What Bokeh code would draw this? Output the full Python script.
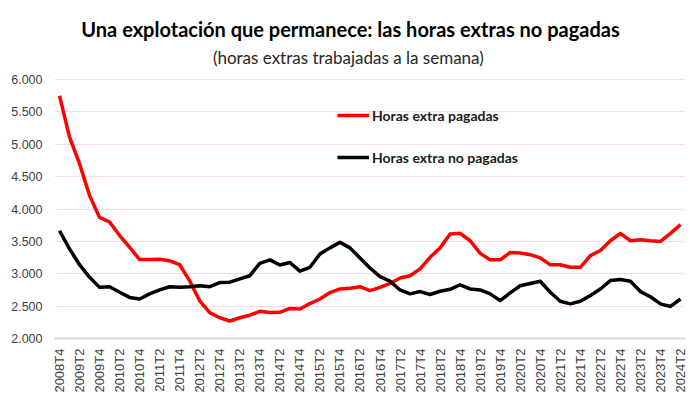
from bokeh.plotting import figure
from bokeh.models import Range1d, FixedTicker, Label, Legend, LegendItem
from bokeh.embed import file_html
from bokeh.resources import INLINE
import math

quarters = [
    "2008T4",
    "2009T1", "2009T2", "2009T3", "2009T4",
    "2010T1", "2010T2", "2010T3", "2010T4",
    "2011T1", "2011T2", "2011T3", "2011T4",
    "2012T1", "2012T2", "2012T3", "2012T4",
    "2013T1", "2013T2", "2013T3", "2013T4",
    "2014T1", "2014T2", "2014T3", "2014T4",
    "2015T1", "2015T2", "2015T3", "2015T4",
    "2016T1", "2016T2", "2016T3", "2016T4",
    "2017T1", "2017T2", "2017T3", "2017T4",
    "2018T1", "2018T2", "2018T3", "2018T4",
    "2019T1", "2019T2", "2019T3", "2019T4",
    "2020T1", "2020T2", "2020T3", "2020T4",
    "2021T1", "2021T2", "2021T3", "2021T4",
    "2022T1", "2022T2", "2022T3", "2022T4",
    "2023T1", "2023T2", "2023T3", "2023T4",
    "2024T1", "2024T2",
]

pagadas = [
    5750, 5110, 4700, 4210, 3870, 3800, 3590, 3410, 3220, 3220,
    3225, 3200, 3140, 2890, 2580, 2400, 2320, 2270, 2320, 2360,
    2420, 2400, 2405, 2465, 2455, 2540, 2610, 2710, 2765, 2775,
    2800, 2740, 2790, 2850, 2935, 2970, 3075, 3255, 3400, 3615,
    3625, 3510, 3315, 3215, 3215, 3330, 3320, 3295, 3245, 3140,
    3140, 3100, 3100, 3280, 3360, 3510, 3625, 3510, 3525, 3510,
    3500, 3625, 3760,
]

no_pagadas = [
    3665, 3385, 3140, 2945, 2790, 2800, 2715, 2635, 2610, 2690,
    2750, 2800, 2790, 2800, 2815, 2800, 2865, 2870, 2920, 2970,
    3160, 3215, 3135, 3175, 3040, 3100, 3305, 3400, 3485, 3400,
    3245, 3090, 2955, 2885, 2750, 2690, 2725, 2680, 2730, 2760,
    2830, 2765, 2750, 2690, 2585, 2705, 2815, 2850, 2885, 2715,
    2575, 2535, 2575, 2665, 2765, 2895, 2910, 2885, 2725, 2645,
    2535, 2495, 2610,
]

y_ticks = [2000, 2500, 3000, 3500, 4000, 4500, 5000, 5500, 6000]
y_tick_labels = ["2.000", "2.500", "3.000", "3.500", "4.000", "4.500", "5.000", "5.500", "6.000"]

title_text = "Una explotación que permanece: las horas extras no pagadas"
subtitle_text = "(horas extras trabajadas  a la semana)"
legend_labels = ["Horas extra pagadas", "Horas extra no pagadas"]

NARROW = "Lato"

x = list(range(len(quarters)))

# frame spans full height above the axis so that title texts sit inside it;
# the upper bound places the 6.000 gridline at the reference position
p = figure(width=700, height=414, output_backend="svg", toolbar_location=None,
           x_range=Range1d(-0.5, len(quarters) - 0.5),
           y_range=Range1d(y_ticks[0], 7222),
           min_border_left=54, min_border_right=15, min_border_top=0, min_border_bottom=76)
p.outline_line_color = None
p.background_fill_color = "white"
p.border_fill_color = "white"

r1 = p.line(x, pagadas, line_color="#ff0000", line_width=3.5, line_join="round")
r2 = p.line(x, no_pagadas, line_color="#000000", line_width=3.5, line_join="round")

# axes
p.xgrid.grid_line_color = None
p.ygrid.grid_line_color = "#fbdcd8"
p.ygrid.grid_line_width = 1
p.yaxis.ticker = FixedTicker(ticks=y_ticks)
p.yaxis.major_label_overrides = {t: l for t, l in zip(y_ticks, y_tick_labels)}
p.yaxis.axis_line_color = None
p.yaxis.major_tick_line_color = None
p.yaxis.minor_tick_line_color = None
p.yaxis.major_tick_out = 0
p.yaxis.major_tick_in = 0
p.yaxis.major_label_standoff = 12
p.yaxis.major_label_text_font = "Liberation Sans"
p.yaxis.major_label_text_font_size = "12.5px"
p.yaxis.major_label_text_color = "#404040"

even = x[::2]
p.xaxis.ticker = FixedTicker(ticks=even)
p.xaxis.major_label_overrides = {i: quarters[i] for i in even}
p.xaxis.major_label_orientation = math.pi / 2
p.xaxis.axis_line_color = "#d9d9d9"
p.xaxis.axis_line_width = 2
p.xaxis.major_tick_line_color = None
p.xaxis.minor_tick_line_color = None
p.xaxis.major_tick_out = 0
p.xaxis.major_tick_in = 0
p.xaxis.major_label_standoff = 10
p.xaxis.major_label_text_font = "Liberation Sans"
p.xaxis.major_label_text_font_size = "13px"
p.xaxis.major_label_text_color = "#404040"

# legend
legend = Legend(items=[LegendItem(label=legend_labels[0], renderers=[r1]),
                       LegendItem(label=legend_labels[1], renderers=[r2])],
                location=(283, 171), orientation="vertical",
                glyph_width=32, glyph_height=20, spacing=22, padding=0, margin=0,
                label_standoff=3, border_line_color=None, background_fill_alpha=0,
                label_text_font=NARROW, label_text_font_style="bold",
                label_text_font_size="14px", label_text_color="#1a1a1a")
p.add_layout(legend, "center")

# titles
p.add_layout(Label(x=296, y=310, x_units="screen", y_units="screen", text=title_text,
                   text_align="center", text_baseline="middle", text_font=NARROW,
                   text_font_style="bold", text_font_size="20px", text_color="#000000"))
p.add_layout(Label(x=296, y=281, x_units="screen", y_units="screen", text=subtitle_text,
                   text_align="center", text_baseline="middle", text_font=NARROW,
                   text_font_size="17px", text_color="#262626"))

open("out.html", "w").write(file_html(p, INLINE))
